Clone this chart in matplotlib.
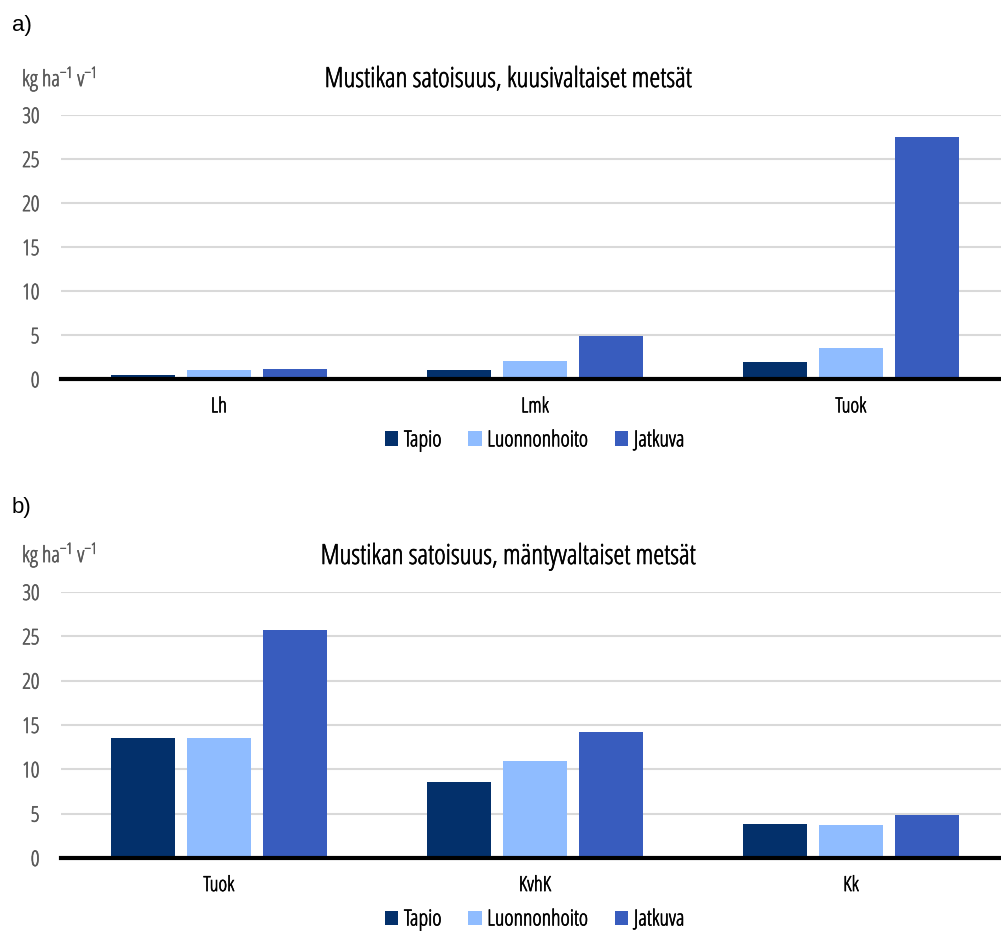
import numpy as np
import matplotlib
matplotlib.use("Agg")
import matplotlib.pyplot as plt
import matplotlib.patheffects as pe
from matplotlib import font_manager
from matplotlib.text import Text

# pick a narrow sans if one is available, otherwise fall back to DejaVu
narrow = None
for f in font_manager.fontManager.ttflist:
    if f.name in ('Liberation Sans Narrow',):
        narrow = (f.name, 'normal')
        break
if narrow is None:
    for fam in ('Noto Sans', 'Open Sans', 'Roboto', 'DejaVu Sans', 'Lato', 'Inter'):
        if any(f.name == fam and f.stretch in ('condensed', 'semi-condensed', 'extra-condensed')
               for f in font_manager.fontManager.ttflist):
            narrow = (fam, 'condensed')
            break
if narrow is None:
    narrow = ('DejaVu Sans', 'normal')

fam, stretch = narrow
plt.rcParams['font.family'] = [fam, 'DejaVu Sans']
plt.rcParams['font.stretch'] = stretch
plt.rcParams['mathtext.fontset'] = 'custom'
plt.rcParams['mathtext.rm'] = f'{fam}:stretch={stretch}'
plt.rcParams['mathtext.it'] = f'{fam}:stretch={stretch}'

series = ["Tapio", "Luonnonhoito", "Jatkuva"]
colors = ["#03306b", "#8fbcff", "#385cbe"]

# a) spruce-dominated forests
cats_a = ["Lh", "Lmk", "Tuok"]
tapio_a = [0.45, 1.1, 2.0]
luonnon_a = [1.06, 2.05, 3.57]
jatkuva_a = [1.14, 4.89, 27.5]

# b) pine-dominated forests
cats_b = ["Tuok", "KvhK", "Kk"]
tapio_b = [13.53, 8.6, 3.87]
luonnon_b = [13.53, 10.98, 3.69]
jatkuva_b = [25.7, 14.18, 4.85]

W, H = 1001, 931
fig = plt.figure(figsize=(W / 100, H / 100), dpi=100)

unit = r'kg ha$^{-1}$ v$^{-1}$'
grey = "#595959"


def panel(rect, cats, vals, title, letter, letter_y, unit_y, title_y):
    ax = fig.add_axes(rect)
    x = np.arange(len(cats))
    step, width = 0.24, 0.2025
    for i, (v, name, c) in enumerate(zip(vals, series, colors)):
        ax.bar(x + (i - 1) * step, v, width, color=c, label=name, zorder=3)
    ax.set_xlim(-0.5, len(cats) - 0.5)
    ax.set_ylim(0, 30)
    ax.set_yticks(range(0, 31, 5))
    ax.yaxis.grid(True, color="#d9d9d9", lw=1.5, zorder=0)
    ax.axhline(0, color="black", lw=3, zorder=4, clip_on=False)
    for s in ax.spines.values():
        s.set_visible(False)
    ax.tick_params(axis='y', length=0, labelsize=15.5, labelcolor=grey, pad=15.5)
    ax.tick_params(axis='x', length=0, labelsize=15, pad=13)
    ax.set_xticks(x)
    ax.set_xticklabels(cats)
    ax.legend(loc='center', bbox_to_anchor=(0.5, -0.233), ncol=3, frameon=False,
              fontsize=16, handlelength=0.6, handleheight=0.6,
              handletextpad=0.25, columnspacing=1.2, borderaxespad=0)
    fig.text(12 / W, 1 - letter_y / H, letter, fontsize=16,
             family='Liberation Sans', stretch='normal',
             va='center', ha='left', gid='plain')
    fig.text(22 / W, 1 - unit_y / H, unit, fontsize=16, color=grey,
             va='center', ha='left')
    fig.text(508 / W, 1 - title_y / H, title, fontsize=20,
             va='center', ha='center')
    return ax


left = 61 / W
width = 948 / W
panel([left, 1 - 379.3 / H, width, 264.3 / H], cats_a,
      [tapio_a, luonnon_a, jatkuva_a],
      "Mustikan satoisuus, kuusivaltaiset metsät", "a)", 26, 79, 80)
panel([left, 1 - 858 / H, width, 266 / H], cats_b,
      [tapio_b, luonnon_b, jatkuva_b],
      "Mustikan satoisuus, mäntyvaltaiset metsät", "b)", 508, 555, 557)

# thicken the light condensed strokes a little (tick labels exist after a draw)
fig.canvas.draw()
texts = list(fig.findobj(Text))
for ax in fig.axes:
    texts += ax.get_xticklabels() + ax.get_yticklabels()
for t in texts:
    if t.get_gid() != 'plain' and t.get_text():
        t.set_path_effects([pe.withStroke(linewidth=0.45, foreground=t.get_color())])

fig.savefig("out.png", dpi=100)
